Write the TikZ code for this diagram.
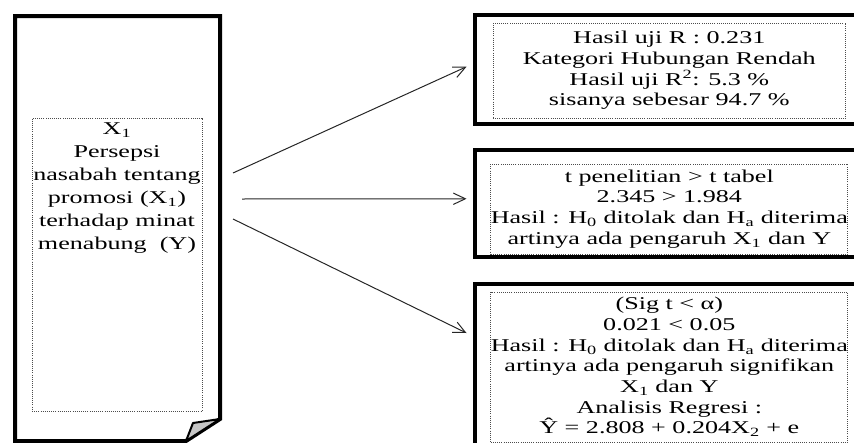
\documentclass[tikz,border=0pt]{standalone}
\usepackage{fontspec}
\setmainfont{Liberation Serif}[FakeStretch=1.45]
\usetikzlibrary{arrows.meta,positioning}

\begin{document}
\begin{tikzpicture}[x=0.75pt, y=-0.75pt,
		outer/.style={draw=black, line width=3pt, inner sep=0pt, minimum width=322.5pt},
		dotbox/.style={draw=black!70, densely dotted, line width=0.6pt, inner sep=0pt,
			minimum width=264.5pt, align=center, font=\fontsize{13.5}{15.5}\selectfont},
		arrow/.style={-{Straight Barb[length=9pt,width=8.5pt]}, draw=black!85, line width=0.75pt}
	]
		\useasboundingbox (0,0) rectangle (854,443);
		\clip (0,0) rectangle (854,443);

		% left document shape
		\draw[line width=3pt, line join=miter] (15,16) -- (220,16) -- (220,419) -- (186,441) -- (15,441) -- cycle;
		\draw[line width=1.5pt, fill=gray!45, line join=round] (220,419) -- (193,423) -- (186,441) -- cycle;
		\node[draw=black!70, densely dotted, line width=0.6pt, inner sep=0pt,
			minimum width=127.5pt, minimum height=219.75pt] (src) at (117,264.5) {};
		\node[anchor=north, align=center, inner sep=0pt, font=\fontsize{13.5}{17.25}\selectfont]
			(srctext) at ([yshift=-3.5pt]src.north) {X\textsubscript{1}\\Persepsi\\nasabah tentang\\promosi (X\textsubscript{1})\\terhadap minat\\menabung~ (Y)};

		% result boxes
		\node[outer, minimum height=82.1pt] (r1) at (689.5,69.75) {};
		\node[outer, minimum height=80.6pt] (r2) at (689.5,203.75) {};
		\node[outer, minimum height=139.5pt] (r3) at (689.5,377) {};

		\node[dotbox, minimum height=71.25pt] (t1) at (669.3,70.5) {Hasil uji R : 0.231\\Kategori Hubungan Rendah\\Hasil uji R\textsuperscript{2}: 5.3 \%\\sisanya sebesar 94.7 \%};
		\node[dotbox, minimum height=67.5pt] (t2) at (669.3,209) {t penelitian > t tabel\\2.345 > 1.984\\Hasil : H\textsubscript{0} ditolak dan H\textsubscript{a} diterima\\artinya ada pengaruh X\textsubscript{1} dan Y};
		\node[dotbox, minimum height=112.5pt] (t3) at (669.3,367) {(Sig t < α)\\0.021 < 0.05\\Hasil : H\textsubscript{0} ditolak dan H\textsubscript{a} diterima\\artinya ada pengaruh signifikan\\X\textsubscript{1} dan Y\\Analisis Regresi :\\Ŷ = 2.808 + 0.204X\textsubscript{2} + e};

		% arrows
		\coordinate (s1) at (233,173);
		\coordinate (s2) at (242,199);
		\coordinate (s3) at (233,219);
		\draw[arrow] (s1) -- ([shift={(-6,-3)}]r1.west);
		\draw[arrow] (s2) -- ([shift={(-6,-5)}]r2.west);
		\draw[arrow] (s3) -- ([shift={(-6,-44)}]r3.west);
	\end{tikzpicture}
\end{document}
